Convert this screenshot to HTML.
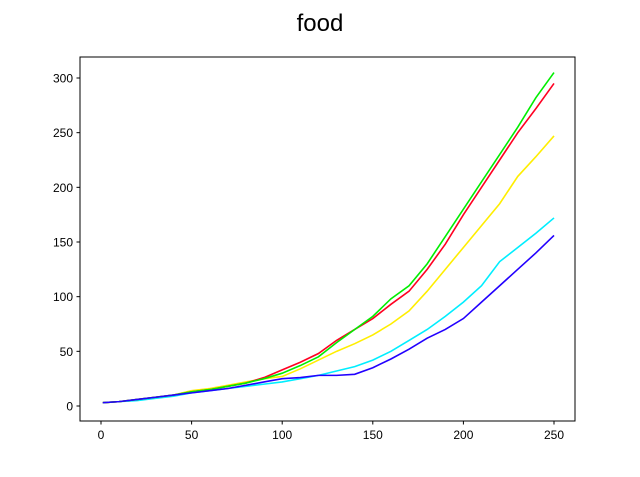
<!DOCTYPE html>
<html><head><meta charset="utf-8"><style>
body{margin:0;background:#fff;}
svg text{font-family:"Liberation Sans",sans-serif;}
</style></head><body>
<svg id="chart" width="640" height="472">
<text x="320" y="31" font-size="24" text-anchor="middle">food</text>
<g id="axes"></g><g id="lines"></g>
<rect x="80" y="57" width="495" height="364" fill="none" stroke="#000" stroke-width="1"/>
</svg>
<script>
const xs=[1,10,20,30,40,50,60,70,80,90,100,110,120,130,140,150,160,170,180,190,200,210,220,230,240,250];
const green=[3,4,6,8,10,13,15,18,21,25,30,37,45,58,70,82,98,110,130,155,180,205,230,255,282,305];
const red=[3,4,6,8,10,13,15,18,21,26,33,40,48,60,70,80,93,105,125,148,175,200,225,250,272,295];
const yellow=[3,4,6,8,10,14,16,19,22,25,27,34,42,50,57,65,75,87,105,125,145,165,185,210,228,247];
const cyan=[3,4,5,7,9,12,14,16,18,20,22,25,28,32,36,42,50,60,70,82,95,110,132,145,158,172];
const blue=[3,4,6,8,10,12,14,16,19,22,25,26,28,28,29,35,43,52,62,70,80,95,110,125,140,156];
const xTicks=[0,50,100,150,200,250];
const yTicks=[0,50,100,150,200,250,300];
const sx=v=>101+v*(554-101)/250;
const sy=v=>406-v*(406-78)/300;
const NS="http://www.w3.org/2000/svg";
const ax=document.getElementById('axes'),ln=document.getElementById('lines');
function mk(p,tag,attrs){const e=document.createElementNS(NS,tag);for(const k in attrs)e.setAttribute(k,attrs[k]);p.appendChild(e);return e;}
xTicks.forEach(t=>{const x=sx(t);
const l=mk(ax,'line',{x1:x,x2:x,y1:421,y2:424.5,stroke:'#000'});


const tx=mk(ax,'text',{x:x,y:439,'font-size':12,'text-anchor':'middle'});tx.textContent=t;

});
yTicks.forEach(t=>{const y=sy(t);
const l=mk(ax,'line',{x1:76.5,x2:80,y1:y,y2:y,stroke:'#000'});


const tx=mk(ax,'text',{x:73,y:y+4.5,'font-size':12,'text-anchor':'end'});tx.textContent=t;

});
const series=[[cyan,'#00eeff','cyan'],[yellow,'#ffee00','yellow'],[red,'#ff0022','red'],[green,'#00ee00','green'],[blue,'#2200ff','blue']];
series.forEach(([d,c,n])=>{
const p=mk(ln,'polyline',{points:d.map((v,i)=>sx(xs[i])+','+sy(v)).join(' '),fill:'none',stroke:c,'stroke-width':1.6});

});
</script>
</body></html>
